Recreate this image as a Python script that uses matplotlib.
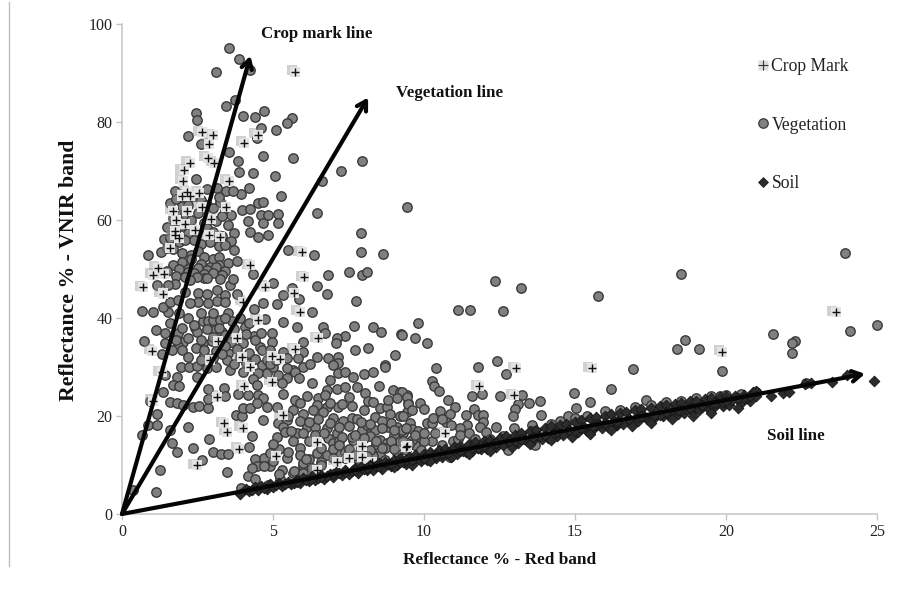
import matplotlib
matplotlib.use('Agg')
import matplotlib.pyplot as plt
import matplotlib.patheffects as pe
from matplotlib.lines import Line2D
from matplotlib.legend_handler import HandlerTuple

plt.rcParams['font.family'] = ['Liberation Serif', 'DejaVu Serif']

veg_x = [3.55,3.89,4.24,3.11,3.74,3.43,2.45,2.49,4.02,4.40,4.71,5.64,5.47,5.09,4.59,2.17,2.60,4.46,4.66,5.65,3.55,3.83,7.96,7.26,6.61,3.87,4.35,5.07,2.45,4.22,5.26,3.94,3.46,3.69,3.13,2.80,1.75,2.14,3.24,4.51,4.66,6.45,9.45,3.98,4.24,4.59,4.83,5.17,4.18,4.68,5.17,4.24,4.82,4.51,3.72,7.93,7.90,8.63,0.85,6.36,5.49,
 1.6,1.8,2.0,2.2,2.4,2.6,2.8,3.0,3.2,3.4,3.6,1.7,1.9,2.1,2.3,2.5,2.7,2.9,3.1,3.3,3.5,1.5,1.8,2.0,2.2,2.5,2.8,3.0,3.3,3.6,1.4,1.6,1.9,2.1,2.4,2.6,2.9,3.2,3.4,3.7,1.3,1.5,1.7,2.0,2.3,2.5,2.7,3.0,3.2,3.5,3.8,1.7,2.0,2.3,2.6,2.9,3.2,2.2,2.5,2.8,3.1,3.4,1.9,2.2,2.7,3.0,3.3,1.5,1.8,2.1,2.4,2.7,
 4.33,6.81,7.51,7.94,8.12,6.45,6.80,7.74,6.30,5.87,5.62,5.34,5.12,5.01,4.68,4.37,0.67,1.04,1.53,1.35,1.59,1.87,1.75,1.53,1.15,2.09,2.53,2.80,3.13,3.41,3.80,2.53,2.86,2.25,3.13,3.41,3.58,3.25,2.80,2.47,2.25,3.69,
 2.69,2.86,3.02,3.25,3.52,3.63,4.07,4.73,5.34,5.81,6.64,6.72,7.68,8.30,8.58,9.25,7.38,7.13,7.07,7.71,8.16,9.04,8.71,8.71,
 1.14,1.42,0.74,1.87,2.42,2.49,3.08,3.30,3.41,4.38,4.98,4.98,6.00,1.42,2.03,1.87,2.69,2.97,2.44,1.31,1.64,4.57,4.62,5.34,5.45,6.00,5.84,6.45,6.83,7.16,7.16,6.99,6.00,6.22,5.67,2.73,3.52,3.47,3.91,4.29,4.62,4.79,5.45,
 1.95,2.22,2.47,2.80,3.11,3.58,4.02,4.51,4.79,5.01,5.18,5.45,5.73,5.86,1.42,1.83,2.47,4.35,1.70,1.90,2.86,3.39,4.46,5.29,6.28,6.89,7.16,7.38,7.66,8.02,8.32,8.52,6.78,7.11,7.38,7.77,8.98,9.21,9.43,
 1.37,0.93,1.59,1.81,2.03,2.36,2.56,2.86,2.86,3.41,3.85,4.18,4.51,4.66,5.34,6.12,5.73,5.89,6.50,6.72,6.45,6.78,7.16,7.52,8.05,8.16,8.54,8.76,9.48,
 1.15,0.87,1.15,2.20,1.59,0.65,1.67,1.81,2.36,2.89,1.26,1.11,0.35,3.49,2.64,3.02,3.27,3.52,4.22,4.29,4.68,3.78,3.96,4.02,4.24,4.79,5.12,4.46,5.12,5.18,5.45,5.67,6.00,6.33,6.67,7.00,7.33,7.61,7.77,8.00,8.38,8.87,9.21,9.43,
 5.34,5.40,5.78,5.67,5.89,6.11,6.39,6.78,7.11,6.83,7.00,7.66,8.10,7.94,8.38,8.82,9.09,9.32,8.54,8.76,6.45,6.78,7.22,8.27,8.54,
 4.40,4.70,4.46,4.90,5.29,5.45,6.00,5.67,4.18,4.40,3.94,4.85,5.23,
 12.35,13.20,11.12,11.52,12.62,15.76,18.50,18.65,18.39,19.09,16.93,16.19,9.81,9.26,9.70,10.11,10.40,11.80,12.42,12.71,10.28,10.34,10.50,10.81,11.59,11.93,12.52,13.23,13.49,13.84,13.12,13.00,12.94,13.87,14.98,15.50,15.04,17.34,14.78,9.26,9.43,9.48,9.88,11.03,10.53,10.86,11.66,11.38,11.80,11.96,11.94,10.72,11.41,11.19,11.86,12.39,12.98,13.56,10.09,10.25,9.32,9.54,9.59,9.87,10.25,10.59,10.97,11.14,12.05,10.36,9.26,9.70,12.79,13.68,10.86,
 23.94,24.10,25.00,21.56,22.30,22.20,22.20,22.65,19.87,19.80,
 8.9,9.0,9.2,8.7,8.6,8.4,8.2,8.1,7.9,7.6,7.4,7.2,7.0,9.8,9.6,10.0,9.1,8.3,7.8,7.5,8.7,9.9,6.6,6.2,6.0,
 1.9,2.2,2.6,3.0,3.4,3.9,4.2,1.6,2.0,2.4,2.8,3.2,3.7,4.1,4.6,1.8,2.2,2.6,3.0,3.6,4.0,4.4,2.0,2.7,3.1,3.4,3.8,4.2,4.9,2.2,2.6,3.0,3.3,3.7,4.1,4.4,4.9,5.1,
 5.5,5.9,6.2,6.5,6.9,7.2,7.5,7.9,8.2,8.6,9.0,9.4,9.7,10.0,5.6,6.0,6.4,6.7,7.3,7.7,8.0,8.4,8.9,9.3,9.5,6.2,6.6,7.2,7.5,7.9,8.2,8.6,9.0,9.4,5.9,6.1,7.0,7.4,7.7,8.1,5.2,5.5,5.0,4.9,5.0,4.7,4.3,5.2,5.7,6.3,6.6,6.0,
 6.9,7.3,7.6,8.3,8.8,9.1,9.6,10.0,10.3,10.6,10.9,11.2,11.5,11.7,12.2,12.6,13.2,13.6,14.2,14.5,15.0,15.4,16.0,16.5,17.0,17.5,18.0,18.5,19.0,19.5,20.0,20.5,21.0]
veg_y = [95.0,92.9,90.6,90.3,84.4,83.3,81.8,80.5,81.2,81.0,82.3,80.8,79.7,78.4,78.8,77.2,75.6,76.7,73.1,72.7,73.8,72.0,72.0,70.0,67.9,69.7,69.5,69.0,68.4,66.5,64.8,65.3,66.0,65.9,66.6,66.4,66.0,64.1,63.6,63.5,63.6,61.5,62.7,62.1,62.2,61.1,61.0,61.2,59.7,59.3,59.3,57.6,57.0,56.5,57.3,57.3,53.5,53.0,52.9,52.8,53.8,
 63.5,64.2,62.8,63.0,65.0,64.0,63.1,62.5,64.6,61.8,61.0,60.5,60.8,61.2,60.0,61.5,59.4,60.2,59.8,60.9,59.0,58.6,58.2,58.8,57.4,57.9,58.4,57.6,56.8,55.7,56.2,56.4,55.5,55.9,56.0,55.2,55.6,54.7,54.9,53.9,53.4,54.3,54.0,53.2,52.8,53.6,52.5,52.1,52.4,51.2,51.6,50.9,51.4,52.0,51.0,50.5,50.8,49.9,50.2,49.8,50.4,49.6,50.0,49.4,49.0,49.2,48.8,49.5,48.6,48.4,49.1,48.2,
 49.0,48.8,49.3,48.8,49.3,46.5,45.0,43.5,41.3,43.8,46.1,44.6,42.8,47.1,43.0,41.8,41.4,41.2,41.3,42.3,43.3,43.7,46.9,46.7,46.7,45.4,45.2,45.0,45.7,44.7,44.8,43.2,43.0,43.0,43.5,43.3,46.7,47.9,48.1,48.4,47.8,47.9,
 39.3,39.3,39.5,39.6,41.0,39.3,38.1,39.7,39.1,38.1,38.1,36.9,38.4,38.2,37.2,36.7,36.4,35.9,34.8,33.5,33.8,32.4,30.5,29.9,
 37.6,36.9,35.4,36.9,37.9,37.2,37.6,37.2,36.5,36.4,36.9,35.2,35.2,34.8,35.2,34.3,35.0,35.3,33.8,32.7,33.5,34.1,33.5,33.1,31.8,33.1,31.8,32.0,31.8,32.0,30.8,30.4,30.1,30.7,29.4,32.4,32.8,31.4,32.0,31.4,30.4,31.4,29.7,
 29.9,29.9,30.3,29.7,30.1,29.4,29.0,28.7,28.7,29.9,28.4,27.7,29.0,27.8,28.4,27.9,27.9,27.6,26.3,26.1,25.6,25.8,26.3,26.7,26.7,27.3,28.7,28.9,28.0,28.5,29.0,26.2,25.3,25.6,26.0,26.0,25.4,25.0,24.3,
 24.8,23.1,22.8,22.6,22.2,21.8,22.1,21.7,23.4,24.1,24.4,24.3,24.3,23.6,24.5,24.1,23.3,22.6,23.6,24.3,22.2,21.9,21.9,23.8,24.6,23.1,21.6,21.9,22.6,
 20.5,18.2,18.2,17.7,17.1,16.1,14.4,12.6,13.4,15.3,9.0,4.4,4.8,8.6,11.0,12.6,12.2,12.2,13.7,16.0,19.2,20.3,19.9,21.6,21.6,21.9,21.9,22.6,15.8,18.5,19.2,21.2,20.5,21.2,20.9,19.5,19.0,19.5,19.4,21.2,19.7,20.5,19.9,20.9,
 17.8,16.8,16.5,14.8,13.4,17.8,17.8,17.5,16.5,15.6,14.4,15.1,16.7,17.1,17.1,17.8,17.8,16.5,15.1,14.4,12.4,12.0,12.4,12.4,12.0,
 11.2,11.4,9.7,9.7,9.0,11.4,9.7,8.3,7.8,7.1,5.4,5.9,7.1,
 47.6,46.1,41.6,41.7,41.5,44.5,48.9,35.5,33.7,33.6,29.5,25.5,39.0,36.5,35.9,35.0,29.7,29.9,31.2,28.6,27.2,26.2,25.2,23.3,24.1,24.4,24.0,24.2,22.7,23.1,22.4,21.4,20.1,20.3,24.6,22.9,21.6,23.3,19.9,24.8,23.9,22.4,22.6,21.8,21.0,20.4,21.4,20.3,20.3,20.3,18.8,18.8,18.2,17.5,17.8,17.7,17.6,18.2,18.5,18.5,19.9,18.5,17.3,15.8,14.9,14.1,14.8,15.4,16.7,16.5,17.1,14.1,13.1,14.1,11.7,
 53.3,37.3,38.5,36.7,35.3,34.9,32.9,26.7,29.2,24.1,
 18.6,16.2,14.9,13.4,18.9,14.2,16.0,18.1,13.0,15.8,12.7,14.9,13.2,16.9,15.2,14.8,12.4,11.9,11.2,12.9,11.1,13.1,10.6,11.2,10.4,
 41.0,40.0,41.0,41.0,40.0,40.0,39.0,39.0,38.0,38.5,37.8,38.0,37.8,36.8,37.0,35.6,36.0,35.6,36.2,35.2,34.8,35.5,33.5,33.4,33.2,34.2,33.6,32.8,33.5,32.0,31.5,31.8,32.6,30.6,30.8,31.6,30.6,31.5,
 20.0,19.0,18.8,19.4,18.5,17.8,18.0,18.8,18.4,17.5,17.2,17.5,16.2,16.6,17.0,16.5,16.2,16.6,15.7,16.2,15.6,14.8,15.0,15.0,14.2,14.8,13.4,14.0,13.2,13.4,13.0,13.4,13.2,13.1,12.0,11.3,11.5,11.4,12.0,11.8,13.2,12.6,14.2,12.4,10.8,9.8,9.4,8.1,8.8,9.4,9.9,8.4,
 22.7,22.5,22.0,22.8,23.2,23.6,21.2,21.4,19.6,19.4,18.2,16.2,16.6,15.3,15.3,16.0,16.2,17.0,18.4,19.0,19.6,20.0,21.0,21.3,21.8,22.3,22.8,23.0,23.6,24.0,24.3,24.5,24.9]

crop_x = [5.74,2.64,3.00,4.49,2.87,4.04,2.84,2.25,3.05,2.05,2.03,3.54,2.16,1.98,2.25,2.55,3.43,2.64,1.70,2.16,2.95,1.79,2.09,2.42,1.75,1.75,2.89,3.25,1.90,1.59,5.95,4.24,1.18,
 1.04,1.40,0.71,1.35,6.04,4.74,5.71,4.02,5.89,4.51,6.50,3.17,3.80,1.00,5.73,4.96,5.23,3.96,2.91,4.24,1.31,4.98,4.04,3.13,1.04,5.32,3.39,3.49,4.00,3.89,6.47,7.94,5.10,2.47,7.11,7.53,7.96,6.45,9.40,8.27,
 13.05,11.83,12.99,15.56,10.70,9.45,23.64,19.87]
crop_y = [90.3,77.9,77.3,77.4,75.5,75.8,72.7,71.7,71.7,70.2,68.0,68.0,65.8,65.0,64.8,65.6,62.7,62.7,61.9,61.9,60.3,60.0,59.2,58.0,57.8,56.9,56.9,56.6,56.3,54.2,53.4,50.8,50.3,
 48.8,48.9,46.3,45.0,48.3,46.4,45.2,43.3,41.3,39.5,35.9,35.4,35.9,33.3,33.6,32.2,31.6,32.0,31.4,30.1,29.0,27.0,26.1,23.9,23.1,20.2,18.5,16.8,17.6,13.3,14.6,13.9,11.8,10.0,10.7,11.4,11.7,9.0,13.7,10.7,
 29.7,26.1,24.3,29.7,16.5,13.9,41.2,33.1]

soil_x = [3.9,4.1,4.2,4.4,4.5,4.6,4.8,4.9,5.0,5.2,5.3,5.5,5.6,5.8,5.9,6.0,6.2,6.3,6.4,6.6,6.7,6.9,7.0,7.1,7.3,7.4,7.5,7.7,7.8,7.9,8.1,8.2,8.3,8.5,8.6,8.7,8.9,9.0,9.1,9.2,9.4,9.5,9.6,9.7,9.9,10.0,10.1,10.2,10.4,10.5,
 10.6,10.7,10.9,11.0,11.1,11.2,11.4,11.5,11.6,11.7,11.9,12.0,12.1,12.2,12.4,12.5,12.6,12.7,12.9,13.0,13.1,13.2,13.4,13.5,13.6,13.7,13.9,14.0,14.1,14.2,14.4,14.5,14.6,14.7,14.9,15.0,15.1,15.2,15.4,15.5,
 15.6,15.7,15.9,16.0,16.1,16.2,16.4,16.5,16.6,16.7,16.9,17.0,17.1,17.2,17.4,17.5,17.6,17.8,17.9,18.0,18.1,18.3,18.4,18.5,18.6,18.8,18.9,19.0,19.1,19.3,19.4,19.5,19.6,19.8,19.9,20.0,20.1,20.3,20.5,20.6,20.8,20.9,21.0,21.0,21.5,21.9,22.1,22.6,22.8,23.5,24.0,24.9,
 5.1,5.7,6.1,6.5,6.8,7.2,7.6,8.0,8.4,8.8,9.3,9.8,10.3,10.8,11.3,11.8,12.3,12.8,13.3,13.8,14.3,14.8,15.3,15.8,16.3,16.8,17.3,17.7,18.2,18.7,19.2,19.7,20.2,20.7,
 9.0,9.6,10.2,10.9,11.5,12.2,12.9,13.5,14.2,14.9,15.5,16.2,16.9,17.5,18.2,18.9,19.5,20.4,
 8.2,8.8,9.4,10.0,10.6,11.2,11.8,12.4,13.0,13.6,14.3,15.0,15.7,16.4,17.1,17.8,18.5,19.2,19.9,20.6,
 4.3,4.7,5.4,5.8,6.25,6.6,7.0,7.4,7.7,8.1,8.5,8.9,9.2,9.6,10.0,10.4,10.8,11.2,11.6,12.0,12.4,12.8,13.2,13.6,14.0,14.4,14.8,15.2,15.6,16.0,16.4,16.8,17.2,17.6,18.0,18.4,18.8,19.2,19.6,20.0,20.4,20.8]
soil_y = [4.0,5.2,4.7,5.5,4.9,5.8,5.2,6.1,5.5,6.3,5.7,6.6,6.1,7.0,6.4,7.3,6.8,7.7,6.9,7.9,7.2,8.2,7.6,8.6,7.9,9.0,8.2,9.3,8.4,9.6,8.9,10.0,9.0,10.4,9.2,10.7,9.8,11.0,10.0,11.4,10.3,11.7,10.6,12.0,10.9,12.3,11.0,12.7,11.4,13.0,
 11.6,13.3,12.0,13.6,12.2,13.9,12.6,14.3,12.8,14.6,13.2,14.9,13.3,15.2,13.7,15.6,14.0,15.9,14.3,16.1,14.4,16.5,14.8,16.9,15.1,17.2,15.4,17.6,15.6,17.9,15.9,18.2,16.2,18.4,16.5,18.8,16.7,19.2,17.0,19.5,
 17.3,19.8,17.6,20.1,17.8,20.4,18.1,20.6,18.4,20.9,18.7,21.2,19.0,21.4,19.3,21.7,19.6,22.0,19.9,22.2,20.2,22.4,20.4,22.7,20.7,23.0,21.1,23.1,21.3,23.4,21.6,23.6,21.9,23.8,22.1,24.0,22.3,24.0,22.7,24.2,23.1,24.9,25.2,24.0,24.1,24.6,25.0,26.5,26.7,26.9,28.3,27.1,
 6.0,6.3,7.0,7.3,7.8,8.3,8.7,9.2,9.7,10.2,10.7,11.2,11.8,12.4,12.9,13.5,14.2,14.7,15.3,16.0,16.5,17.2,17.7,18.3,18.9,19.4,20.0,20.4,21.0,21.5,22.0,22.6,23.2,23.6,
 9.5,10.1,10.9,11.6,12.2,12.9,13.7,14.3,15.1,15.8,16.4,17.2,17.9,18.6,19.3,20.0,20.7,21.6,
 9.7,10.3,11.0,11.5,12.3,13.0,13.4,14.4,14.9,15.7,16.6,17.0,18.2,18.5,19.7,20.2,21.3,21.8,22.9,23.6,
 5.0,5.4,6.2,6.6,7.2,7.6,8.1,8.5,8.9,9.4,9.8,10.3,10.7,11.1,11.5,12.0,12.5,12.9,13.4,13.9,14.4,14.8,15.3,15.7,16.2,16.7,17.1,17.6,18.0,18.5,19.0,19.4,19.9,20.3,20.9,21.3,21.7,22.2,22.7,23.1,23.6,24.0]

arrow_tips = {'Crop mark line': (4.25, 93.5), 'Vegetation line': (8.15, 85.0), 'Soil line': (24.6, 28.6)}
x_ticks = [0, 5, 10, 15, 20, 25]
y_ticks = [0, 20, 40, 60, 80, 100]

W, H = 897, 593
fig = plt.figure(figsize=(W/100, H/100), dpi=100, facecolor='white')
ax = fig.add_axes([122/W, 1-514/H, 755/W, 490/H])
ax.set_xlim(0, 25)
ax.set_ylim(0, 100)
ax.set_xticks(x_ticks)
ax.set_yticks(y_ticks)
for s in ('top', 'right'):
    ax.spines[s].set_visible(False)
for s in ('left', 'bottom'):
    ax.spines[s].set_color('#c4c4c4')
    ax.spines[s].set_linewidth(1.1)
ax.tick_params(length=4, width=1, color='#c4c4c4', labelsize=11.5, labelcolor='#222222', pad=3)

ax.scatter(veg_x, veg_y, s=46, c='#808080', edgecolors='#3a3a3a', linewidths=1.0, clip_on=False, zorder=3)
ax.scatter(crop_x, crop_y, s=52, marker='s', c='#e4e4e4', edgecolors='none', clip_on=False, zorder=4,
           path_effects=[pe.SimplePatchShadow(offset=(-2.5, 1), shadow_rgbFace='#8c8c8c', alpha=0.4), pe.Normal()])
ax.scatter(crop_x, crop_y, s=38, marker='+', c='#111111', linewidths=1.0, clip_on=False, zorder=4.1)
ax.scatter(soil_x, soil_y, s=30, marker='D', c='#2c2c2c', edgecolors='#151515', linewidths=0.6, clip_on=False, zorder=5)

for tip in arrow_tips.values():
    ax.annotate('', xy=tip, xytext=(0, 0), zorder=6, annotation_clip=False,
                arrowprops=dict(arrowstyle='->,head_length=0.65,head_width=0.38', color='#050505', lw=3.0,
                                shrinkA=0, shrinkB=0))

tb = dict(family='Liberation Serif', weight='bold', color='#111111', fontsize=12.2, ha='left', va='center')
ax.text(261/W, 1-34/H, 'Crop mark line', transform=fig.transFigure, zorder=7, **tb)
ax.text(396/W, 1-93/H, 'Vegetation line', transform=fig.transFigure, zorder=7, **tb)
ax.text(767/W, 1-436/H, 'Soil line', transform=fig.transFigure, zorder=7, **tb)

ax.set_xlabel('Reflectance % - Red band', fontsize=12.4, fontweight='bold', color='#111111', labelpad=0)
ax.xaxis.set_label_coords((500-122)/755, (514-552)/490)
ax.set_ylabel('Reflectance % - VNIR band', fontsize=15.7, fontweight='bold', color='#111111')
ax.yaxis.set_label_coords((79-122)/755, (514-270)/490)

crop_sq = Line2D([], [], ls='none', marker='s', ms=7, mfc='#dcdcdc', mec='none')
crop_pl = Line2D([], [], ls='none', marker='+', ms=6.5, mec='#333333', mew=0.8)
veg_h = Line2D([], [], ls='none', marker='o', ms=6.8, mfc='#808080', mec='#3a3a3a', mew=0.9)
soil_h = Line2D([], [], ls='none', marker='D', ms=5.2, mfc='#2c2c2c', mec='#151515', mew=0.5)
fig.legend(handles=[(crop_sq, crop_pl), veg_h, soil_h], labels=['Crop Mark', 'Vegetation', 'Soil'],
           handler_map={tuple: HandlerTuple(ndivide=1, pad=0)},
           loc='upper left', bbox_to_anchor=(755/W, 1-58/H), frameon=False, fontsize=12.7,
           labelspacing=2.36, handlelength=0.9, handletextpad=0.03, borderpad=0, borderaxespad=0, labelcolor='#222222')

fig.add_artist(Line2D([9/W, 9/W], [1-2/H, 1-566/H], color='#bdbdbd', lw=1.0, transform=fig.transFigure))

fig.savefig('out.png', dpi=100)
